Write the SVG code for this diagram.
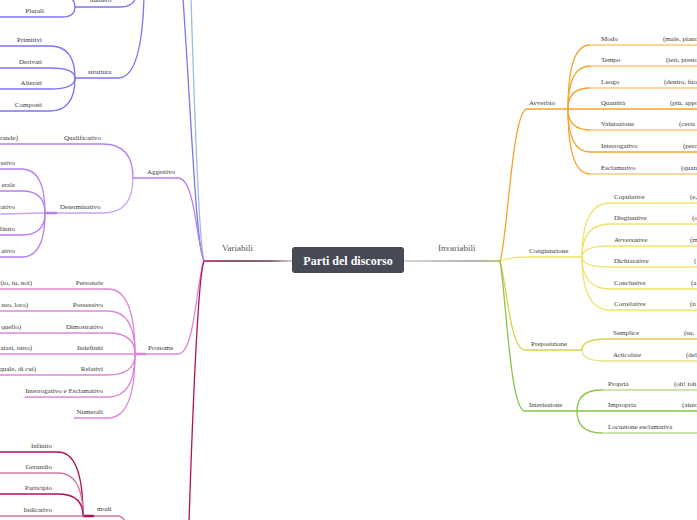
<svg xmlns="http://www.w3.org/2000/svg" width="697" height="520" viewBox="0 0 697 520">
<defs>
<style>
text{font-family:"Liberation Serif","Times New Roman",serif;font-size:7px;fill:#3a3a3a}
.end{text-anchor:end}
.big{font-size:9px;fill:#555}
.title{font-size:12px;font-weight:bold;fill:#fff;text-anchor:middle}
path,line{fill:none;stroke-width:1.3;stroke-linecap:round}
.nome{stroke:#7d74f4}
.nome2{stroke:#97bde3}
.agg{stroke:#b67ff0}
.agg2{stroke:#c9a2f5}
.pro{stroke:#dc88d6}
.ver{stroke:#b0105a}
.ver2{stroke:#d47aa2}
.avv{stroke:#f3a52c}
.avv2{stroke:#f9c77c}
.con{stroke:#f1e36a}
.pre{stroke:#d8d14c}
.pre2{stroke:#e6e07e}
.int{stroke:#8cc24a}
.int2{stroke:#bcdc90}
.stub{stroke-width:2.6}
</style>
<linearGradient id="gl" x1="204" y1="0" x2="292" y2="0" gradientUnits="userSpaceOnUse">
<stop offset="0" stop-color="#b0105a"/><stop offset="0.3" stop-color="#6a1a3c"/><stop offset="0.75" stop-color="#5a3a48"/><stop offset="1" stop-color="#c8c0c4"/>
</linearGradient>
<linearGradient id="gr" x1="404" y1="0" x2="500" y2="0" gradientUnits="userSpaceOnUse">
<stop offset="0" stop-color="#cfc8c8"/><stop offset="0.6" stop-color="#a89c9c"/><stop offset="0.85" stop-color="#a0a090"/><stop offset="1" stop-color="#8cc24a"/>
</linearGradient>
</defs>
<rect width="697" height="520" fill="#fff"/>
<g id="connectors">
<path d="M292 261 L204 261" stroke="url(#gl)" stroke-width="1.6"/>
<path d="M404 261 L500 261" stroke="url(#gr)" stroke-width="1.6"/>
<path class="nome" d="M204 261 C196 245 192 130 183 -2"/>
<path class="nome2" d="M204 261 C199 245 195 130 191 -2"/>
<path class="agg" d="M204 261 C196 240 195 178 178 178 L133 178"/>
<path class="pro" d="M204 261 C196 282 195 354 178 354 L135 354"/>
<path class="ver" d="M204 261 C198 275 193 400 189 522"/>
<path class="nome" d="M75 78 L118 78 Q142 78 144 -4"/>
<path class="nome" d="M75 7 L120 7 Q134 7 136 -4"/>
<path class="nome" d="M0 17 L62 17 Q75 17 75 7"/>
<path class="nome" d="M62 -4 Q75 -4 75 7"/>
<path class="nome" d="M0 46 L50 46 Q75 46 75 78"/>
<path class="nome" d="M0 68 L50 68 Q75 68 75 78"/>
<path class="nome" d="M0 89 L50 89 Q75 89 75 78"/>
<path class="nome" d="M0 111 L50 111 Q75 111 75 78"/>
<path class="agg" d="M0 144 L103 144 Q133 144 133 178"/>
<path class="agg2" d="M45 213 L103 213 Q133 213 133 178"/>
<line class="agg stub" x1="45" y1="213" x2="56" y2="213"/>
<path class="agg" d="M0 169 L22 169 Q45 169 45 213"/>
<path class="agg" d="M0 191 L22 191 Q45 191 45 213"/>
<path class="agg2" d="M0 214 L45 213"/>
<path class="agg" d="M0 235 L22 235 Q45 235 45 213"/>
<path class="agg" d="M0 257 L22 257 Q45 257 45 213"/>
<line class="pro stub" x1="135" y1="354" x2="145" y2="354"/>
<path class="pro" d="M0 289 L108 289 Q135 289 135 354"/>
<path class="pro" d="M0 311 L108 311 Q135 311 135 354"/>
<path class="pro" d="M0 333 L108 333 Q135 333 135 354"/>
<path class="pro" d="M0 354 L135 354"/>
<path class="pro" d="M0 375 L108 375 Q135 375 135 354"/>
<path class="pro" d="M25 397 L108 397 Q135 397 135 354"/>
<path class="pro" d="M74 418 L108 418 Q135 418 135 354"/>
<path class="ver2" d="M83 516 L118 516 Q122 516 125 521"/>
<line class="ver stub" x1="83" y1="516" x2="93" y2="516"/>
<path class="ver" d="M0 452 L58 452 Q83 452 83 516"/>
<path class="ver2" d="M0 473 L58 473 Q83 473 83 516"/>
<path class="ver" d="M0 494 L58 494 Q83 494 83 516"/>
<path class="ver2" d="M0 516 L83 516"/>
<path class="avv" d="M500 261 C507 245 512 109 527 109 L568 109"/>
<path class="con" d="M500 261 C510 258 515 257 530 257 L582 257"/>
<path class="pre" d="M500 261 C506 280 510 350 525 350 L582 350"/>
<path class="int" d="M500 261 C506 295 510 411 525 411 L577 411"/>
<path class="avv" d="M568 109 Q568 45 590 45"/><path class="avv2" d="M590 45 L697 45"/>
<path class="avv" d="M568 109 Q568 66 590 66"/><path class="avv2" d="M590 66 L697 66"/>
<path class="avv" d="M568 109 Q568 88 590 88"/><path class="avv2" d="M590 88 L697 88"/>
<path class="avv" d="M568 109 L697 109"/>
<path class="avv" d="M568 109 Q568 130 590 130"/><path class="avv2" d="M590 130 L697 130"/>
<path class="avv" d="M568 109 Q568 152 590 152 L697 152"/>
<path class="avv" d="M568 109 Q568 174 590 174"/><path class="avv2" d="M590 174 L697 174"/>
<path class="con" d="M582 257 Q582 203 610 203 L697 203"/>
<path class="con" d="M582 257 Q582 224 610 224 L697 224"/>
<path class="con" d="M582 257 Q582 246 610 246 L697 246"/>
<path class="con" d="M582 257 Q582 267 610 267 L697 267"/>
<path class="con" d="M582 257 Q582 289 610 289 L697 289"/>
<path class="con" d="M582 257 Q582 310 610 310 L697 310"/>
<path class="pre" d="M582 350 Q582 339 606 339 L697 339"/>
<path class="pre2" d="M582 350 Q582 361 606 361 L697 361"/>
<path class="int" d="M577 411 Q577 390 602 390"/><path class="int2" d="M602 390 L697 390"/>
<path class="int" d="M577 411 L697 411"/>
<path class="int" d="M577 411 Q577 433 602 433"/><path class="int2" d="M602 433 L697 433"/>
</g>
<g id="root"><rect x="292" y="247" width="112" height="26" rx="3" fill="#464a54"/><text class="title" x="348" y="265">Parti del discorso</text></g>
<g id="variabili"><text class="big" x="222" y="251">Variabili</text></g>
<g id="invariabili"><text class="big" x="438" y="251">Invariabili</text></g>
<g id="numero"><text x="90" y="2">numero</text></g>
<g id="plurali"><text class="end" x="44" y="13">Plurali</text></g>
<g id="struttura"><text x="88" y="74">struttura</text></g>
<g id="primitivi"><text class="end" x="42" y="42">Primitivi</text></g>
<g id="derivati"><text class="end" x="42" y="64">Derivati</text></g>
<g id="alterati"><text class="end" x="42" y="85">Alterati</text></g>
<g id="composti"><text class="end" x="42" y="107">Composti</text></g>
<g id="aggettivo"><text x="147" y="174">Aggettivo</text></g>
<g id="qualificativo"><text x="64" y="140">Qualificativo</text><text class="end" x="18" y="140">rande)</text></g>
<g id="determinativo"><text x="60" y="209">Determinativo</text></g>
<g id="det1"><text class="end" x="15" y="165">ssivo</text></g>
<g id="det2"><text class="end" x="15" y="187">erale</text></g>
<g id="det3"><text class="end" x="15" y="209">rativo</text></g>
<g id="det4"><text class="end" x="15" y="231">finito</text></g>
<g id="det5"><text class="end" x="15" y="253">ativo</text></g>
<g id="pronome"><text x="148" y="350">Pronome</text></g>
<g id="personale"><text class="end" x="103" y="285">Personale</text><text class="end" x="32" y="285">(io, tu, noi)</text></g>
<g id="possessivo"><text class="end" x="103" y="307">Possessivo</text><text class="end" x="28" y="307">suo, loro)</text></g>
<g id="dimostrativo"><text class="end" x="103" y="329">Dimostrativo</text><text class="end" x="21" y="329">quello)</text></g>
<g id="indefiniti"><text class="end" x="103" y="350">Indefiniti</text><text class="end" x="32" y="350">aiasi, tutto)</text></g>
<g id="relativi"><text class="end" x="103" y="371">Relativi</text><text class="end" x="36" y="371">quale, di cui)</text></g>
<g id="interrogativo-p"><text class="end" x="103" y="393">Interrogativo e Esclamativo</text></g>
<g id="numerali"><text class="end" x="103" y="414">Numerali</text></g>
<g id="modi"><text x="97" y="511">modi</text></g>
<g id="infinito"><text class="end" x="52" y="448">Infinito</text></g>
<g id="gerundio"><text class="end" x="52" y="469">Gerundio</text></g>
<g id="participio"><text class="end" x="52" y="490">Participio</text></g>
<g id="indicativo"><text class="end" x="52" y="512">Indicativo</text></g>
<g id="avverbio"><text x="529" y="105">Avverbio</text></g>
<g id="modo"><text x="601" y="41">Modo</text><text x="663" y="41">(male, piano</text></g>
<g id="tempo"><text x="601" y="62">Tempo</text><text x="666" y="62">(ieri, presto</text></g>
<g id="luogo"><text x="601" y="84">Luogo</text><text x="664" y="84">(dentro, fuo</text></g>
<g id="quantita"><text x="601" y="105">Quantità</text><text x="670" y="105">(più, appo</text></g>
<g id="valutazione"><text x="601" y="126">Valutazione</text><text x="679" y="126">(certa</text></g>
<g id="interrogativo-a"><text x="601" y="148">Interrogativo</text><text x="683" y="148">(perc</text></g>
<g id="esclamativo"><text x="601" y="170">Esclamativo</text><text x="681" y="170">(quan</text></g>
<g id="congiunzione"><text x="529" y="253">Congiunzione</text></g>
<g id="copulative"><text x="614" y="199">Copulative</text><text x="690" y="199">(e,</text></g>
<g id="disgiuntive"><text x="614" y="220">Disgiuntive</text><text x="692" y="220">(o</text></g>
<g id="avversative"><text x="614" y="242">Avversative</text><text x="690" y="242">(m</text></g>
<g id="dichiarative"><text x="614" y="263">Dichiarative</text><text x="694" y="263">(</text></g>
<g id="conclusive"><text x="614" y="285">Conclusive</text><text x="691" y="285">(a</text></g>
<g id="correlative"><text x="614" y="306">Correlative</text><text x="690" y="306">(n</text></g>
<g id="preposizione"><text x="531" y="346">Preposizione</text></g>
<g id="semplice"><text x="613" y="335">Semplice</text><text x="684" y="335">(su,</text></g>
<g id="articolate"><text x="613" y="357">Articolate</text><text x="686" y="357">(del</text></g>
<g id="interiezione"><text x="529" y="407">Interiezione</text></g>
<g id="propria"><text x="608" y="386">Propria</text><text x="674" y="386">(oh! toh</text></g>
<g id="impropria"><text x="608" y="407">Impropria</text><text x="682" y="407">(aiuto</text></g>
<g id="locuzione"><text x="608" y="429">Locuzione esclamativa</text></g>
</svg>
